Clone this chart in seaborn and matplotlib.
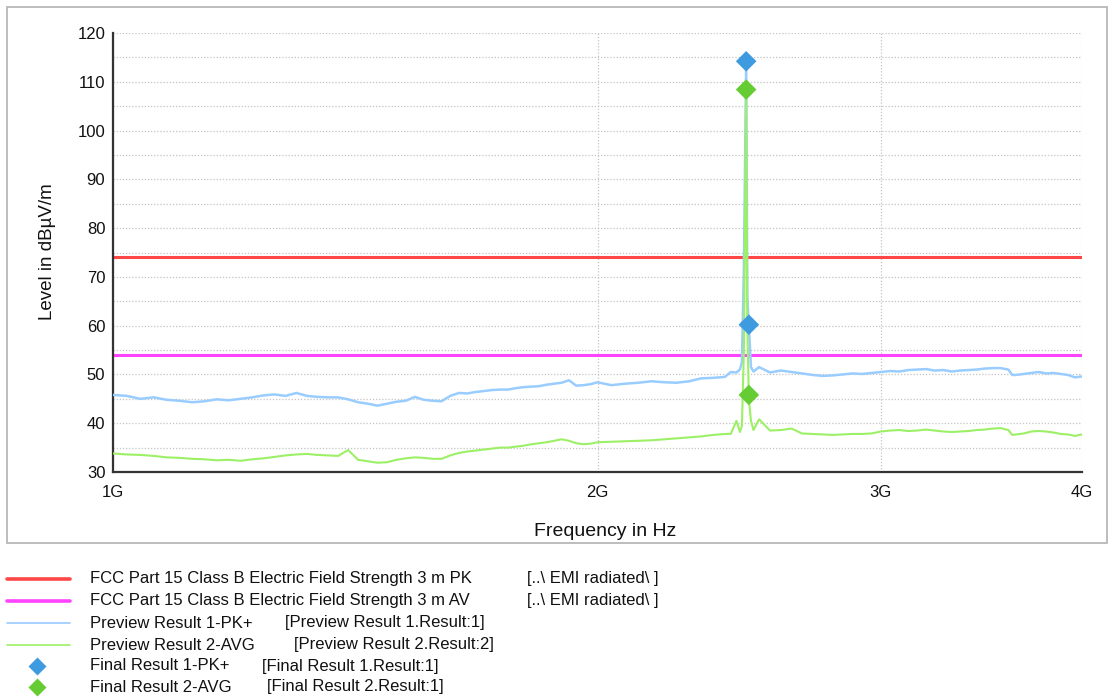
import numpy as np
import pandas as pd
import matplotlib
matplotlib.use("Agg")
import matplotlib.pyplot as plt
import seaborn as sns
from matplotlib.lines import Line2D
from matplotlib.patches import Rectangle

# sweep frequencies in GHz
freq_ghz = [1.00, 1.02, 1.04, 1.06, 1.08, 1.10, 1.12, 1.14, 1.16, 1.18,
            1.20, 1.22, 1.24, 1.26, 1.28, 1.30, 1.32, 1.34, 1.36, 1.38,
            1.40, 1.42, 1.44, 1.46, 1.48, 1.50, 1.52, 1.54, 1.56, 1.58,
            1.60, 1.62, 1.64, 1.66, 1.68, 1.70, 1.72, 1.74, 1.76, 1.78,
            1.80, 1.82, 1.84, 1.86, 1.88, 1.90, 1.92, 1.94, 1.96, 1.98,
            2.00, 2.04, 2.08, 2.12, 2.16, 2.20, 2.24, 2.28, 2.32, 2.36,
            2.40, 2.42, 2.44, 2.452, 2.459, 2.466, 2.474, 2.478, 2.4835, 2.491,
            2.50, 2.52, 2.56, 2.60, 2.64, 2.68, 2.72, 2.76, 2.80, 2.84,
            2.88, 2.92, 2.96, 3.00, 3.04, 3.08, 3.12, 3.16, 3.20, 3.24,
            3.28, 3.32, 3.36, 3.40, 3.44, 3.48, 3.52, 3.56, 3.60, 3.62,
            3.64, 3.68, 3.72, 3.76, 3.80, 3.84, 3.88, 3.92, 3.96, 4.00]

# Preview Result 1-PK+ (dBuV/m)
pk_level = [45.8, 45.6, 45.0, 45.3, 44.8, 44.6, 44.3, 44.5, 44.9, 44.7,
            45.0, 45.3, 45.7, 45.9, 45.6, 46.2, 45.6, 45.4, 45.3, 45.3,
            44.9, 44.3, 44.0, 43.6, 44.0, 44.4, 44.6, 45.4, 44.8, 44.6,
            44.5, 45.6, 46.2, 46.1, 46.4, 46.6, 46.8, 46.9, 46.9, 47.2,
            47.4, 47.5, 47.6, 47.9, 48.1, 48.3, 48.8, 47.7, 47.8, 48.0,
            48.4, 47.8, 48.1, 48.3, 48.6, 48.4, 48.3, 48.6, 49.2, 49.3,
            49.5, 50.5, 50.4, 51.0, 52.5, 72.0, 114.0, 66.0, 60.0, 51.5,
            50.6, 51.5, 50.4, 50.8, 50.5, 50.2, 49.9, 49.7, 49.8, 50.0,
            50.2, 50.1, 50.3, 50.5, 50.7, 50.6, 50.9, 51.0, 51.1, 50.8,
            50.9, 50.6, 50.8, 50.9, 51.0, 51.2, 51.3, 51.3, 51.0, 49.9,
            49.9, 50.1, 50.3, 50.5, 50.2, 50.3, 50.1, 49.9, 49.4, 49.6]

# Preview Result 2-AVG (dBuV/m)
avg_level = [33.8, 33.6, 33.5, 33.3, 33.0, 32.9, 32.7, 32.6, 32.4, 32.5,
             32.3, 32.6, 32.8, 33.1, 33.4, 33.6, 33.7, 33.5, 33.4, 33.3,
             34.5, 32.5, 32.2, 31.9, 32.0, 32.5, 32.8, 33.0, 32.9, 32.7,
             32.7, 33.4, 33.9, 34.2, 34.4, 34.6, 34.8, 35.0, 35.0, 35.2,
             35.4, 35.7, 35.9, 36.1, 36.4, 36.7, 36.4, 35.9, 35.7, 35.8,
             36.1, 36.2, 36.3, 36.4, 36.5, 36.7, 36.9, 37.1, 37.3, 37.6,
             37.8, 37.8, 40.5, 38.2, 39.5, 55.0, 108.3, 60.0, 45.0, 40.5,
             38.6, 40.8, 38.5, 38.6, 38.9, 37.9, 37.8, 37.7, 37.6, 37.7,
             37.8, 37.8, 37.9, 38.3, 38.5, 38.6, 38.4, 38.5, 38.7, 38.5,
             38.3, 38.2, 38.3, 38.4, 38.6, 38.7, 38.9, 39.0, 38.6, 37.6,
             37.7, 37.9, 38.3, 38.4, 38.3, 38.1, 37.8, 37.7, 37.4, 37.7]

# final measurements
final_freq = [2.474, 2.4835]
final_pk = [114.2, 60.2]
final_avg = [108.4, 45.8]

pk_limit = 74
avg_limit = 54

x_ticks = [1, 2, 3, 4]
x_labels = ["1G", "2G", "3G", "4G"]
y_ticks = [30, 40, 50, 60, 70, 80, 90, 100, 110, 120]

legend_rows = [
    ("FCC Part 15 Class B Electric Field Strength 3 m PK", "[..\\ EMI radiated\\ ]"),
    ("FCC Part 15 Class B Electric Field Strength 3 m AV", "[..\\ EMI radiated\\ ]"),
    ("Preview Result 1-PK+", "[Preview Result 1.Result:1]"),
    ("Preview Result 2-AVG", "[Preview Result 2.Result:2]"),
    ("Final Result 1-PK+", "[Final Result 1.Result:1]"),
    ("Final Result 2-AVG", "[Final Result 2.Result:1]"),
]

c_red = "#ff4646"
c_mag = "#ff44ff"
c_pk = "#99ccff"
c_avg = "#9cf066"
c_fpk = "#3f9be0"
c_favg = "#66cc33"

sns.set_style("white")
plt.rcParams["font.family"] = ["Liberation Sans", "DejaVu Sans"]

W, H = 1110, 698
fig = plt.figure(figsize=(W / 100, H / 100), dpi=100)
fig.patches.append(Rectangle((7 / W, 1 - 543 / H), 1100 / W, 536 / H,
                             transform=fig.transFigure, fill=False,
                             edgecolor="#b8b8b8", lw=1.3))
ax = fig.add_axes([113 / W, 1 - 472 / H, 969 / W, 439 / H])

df = pd.DataFrame({"freq": freq_ghz, "pk": pk_level, "avg": avg_level})

ax.axhline(pk_limit, color=c_red, lw=2.2, zorder=2)
ax.axhline(avg_limit, color=c_mag, lw=2.2, zorder=2)
sns.lineplot(data=df, x="freq", y="pk", ax=ax, color=c_pk, lw=1.8,
             estimator=None, zorder=3)
sns.lineplot(data=df, x="freq", y="avg", ax=ax, color=c_avg, lw=1.5,
             estimator=None, zorder=4)
sns.scatterplot(x=final_freq, y=final_pk, ax=ax, marker="D", s=110,
                color=c_fpk, edgecolor="none", zorder=6)
sns.scatterplot(x=final_freq, y=final_avg, ax=ax, marker="D", s=110,
                color=c_favg, edgecolor="none", zorder=6)

ax.set_xscale("log")
ax.set_xlim(1, 4)
ax.set_ylim(30, 120)
ax.set_xticks(x_ticks)
ax.set_xticklabels(x_labels)
ax.xaxis.set_minor_locator(matplotlib.ticker.NullLocator())
ax.set_yticks(y_ticks)
ax.set_yticks(np.arange(35, 120, 10), minor=True)
ax.set_xlabel("")
ax.set_ylabel("")

ax.tick_params(axis="both", which="major", direction="inout", length=9,
               width=1.2, color="#333333", labelsize=12, labelcolor="#111111")
ax.tick_params(axis="y", which="minor", direction="inout", length=10,
               width=1.2, color="#333333")
ax.tick_params(axis="y", pad=1)
ax.tick_params(axis="x", pad=5)

ax.grid(True, which="both", axis="y", color="#c4c4c4", ls=(0, (1, 1.5)), lw=0.9)
ax.grid(True, which="major", axis="x", color="#c4c4c4", ls=(0, (1, 1.5)), lw=0.9)
for s in ["top", "right"]:
    ax.spines[s].set_visible(False)
for s in ["left", "bottom"]:
    ax.spines[s].set_color("#333333")
    ax.spines[s].set_linewidth(1.6)

fig.text(605 / W, 1 - 531 / H, "Frequency in Hz", ha="center", va="center",
         fontsize=14, color="#111111")
fig.text(48 / W, 1 - 252 / H, "Level in dBµV/m", ha="center", va="center",
         rotation=90, fontsize=13.5, color="#111111")

# legend below the panel
row_y = [579, 601, 623, 645, 666, 687]
second_x = [527, 527, 285, 294, 262, 267]
handles = [("line", c_red, 2.6), ("line", c_mag, 2.6), ("line", c_pk, 1.2),
           ("line", c_avg, 1.2), ("mark", c_fpk, 0), ("mark", c_favg, 0)]
for (name, src), y, x2, (kind, col, lw) in zip(legend_rows, row_y, second_x, handles):
    yf = 1 - y / H
    if kind == "line":
        fig.add_artist(Line2D([7 / W, 70 / W], [yf, yf], color=col, lw=lw,
                              transform=fig.transFigure))
    else:
        fig.add_artist(Line2D([37 / W], [yf], marker="D", ms=9, color=col,
                              mec="none", ls="none", transform=fig.transFigure))
    fig.text(90 / W, yf, name, ha="left", va="center", fontsize=12, color="#111111")
    fig.text(x2 / W, yf, src, ha="left", va="center", fontsize=12, color="#111111")

fig.savefig("out.png", dpi=100)
